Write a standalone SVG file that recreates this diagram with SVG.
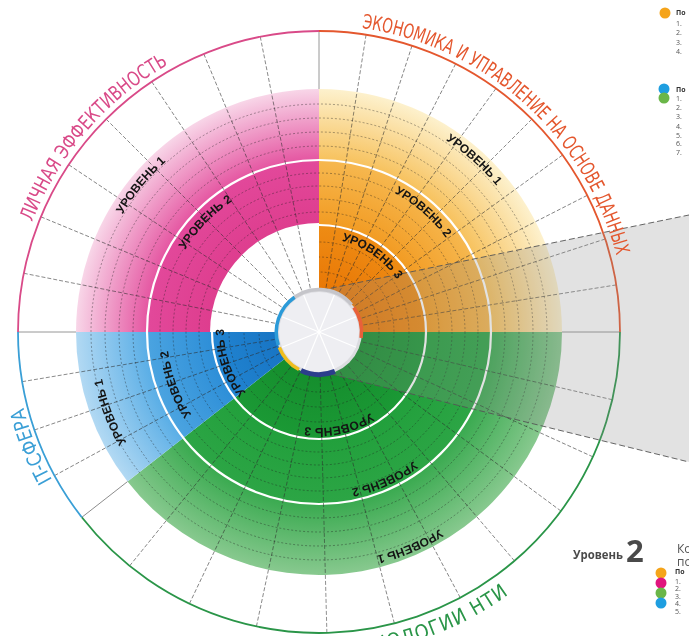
<svg xmlns="http://www.w3.org/2000/svg" width="689" height="636" viewBox="0 0 689 636">
<defs>
<style>
.sep{stroke:#2e2e2e;stroke-width:0.7;stroke-dasharray:4 2;opacity:.75}
.bnd{stroke:#8a8a8a;stroke-width:0.9}
.ring{fill:none;stroke:#1e1e1e;stroke-width:0.7;stroke-dasharray:2 2;opacity:.55}
.wring{fill:none;stroke:#fff;stroke-width:2.2}
.lvl{font-family:"Liberation Sans",Arial,sans-serif;font-weight:bold;font-size:12px;fill:#141414}
.title{font-family:"Liberation Sans Narrow","DejaVu Sans Condensed","Liberation Sans",sans-serif;font-size:20px}
.cl{stroke:#fff;stroke-width:1.2}
.leg{font-family:"Open Sans","Liberation Sans",sans-serif;font-size:7px;fill:#555}
.legb{font-family:"Open Sans","Liberation Sans",sans-serif;font-size:7px;font-weight:bold;fill:#333}
</style>
<radialGradient id="gO" gradientUnits="userSpaceOnUse" cx="319" cy="332" r="243">
<stop offset="0.18" stop-color="#e97806"/><stop offset="0.44" stop-color="#ee8c14"/>
<stop offset="0.445" stop-color="#f29c24"/><stop offset="0.70" stop-color="#f6b74e"/>
<stop offset="0.71" stop-color="#f7c25e"/><stop offset="1" stop-color="#fdf1cd"/>
</radialGradient>
<radialGradient id="gP" gradientUnits="userSpaceOnUse" cx="319" cy="332" r="243">
<stop offset="0.44" stop-color="#de3d8e"/><stop offset="0.70" stop-color="#e2489a"/>
<stop offset="0.71" stop-color="#e557a2"/><stop offset="1" stop-color="#f8d6e8"/>
</radialGradient>
<radialGradient id="gB" gradientUnits="userSpaceOnUse" cx="319" cy="332" r="243">
<stop offset="0.18" stop-color="#1875c4"/><stop offset="0.44" stop-color="#2184d1"/>
<stop offset="0.445" stop-color="#2e8fd8"/><stop offset="0.70" stop-color="#4aa3e0"/>
<stop offset="0.71" stop-color="#5aaee6"/><stop offset="1" stop-color="#b2d9f3"/>
</radialGradient>
<radialGradient id="gG" gradientUnits="userSpaceOnUse" cx="319" cy="332" r="243">
<stop offset="0.18" stop-color="#158e2d"/><stop offset="0.44" stop-color="#1b9935"/>
<stop offset="0.445" stop-color="#22a03c"/><stop offset="0.70" stop-color="#2ca545"/>
<stop offset="0.71" stop-color="#3aaa50"/><stop offset="1" stop-color="#88c98f"/>
</radialGradient>
<path id="tEcon" d="M361.7,28.0 A307,307 0 0 1 616.9,257.7"/>
<path id="tPers" d="M32.4,222.0 A307,307 0 0 1 170.2,63.5"/>
<path id="tIT" d="M52.2,479.9 A305,305 0 0 1 23.1,405.8"/>
<path id="tNTI" d="M182.1,625.6 A324,324 0 0 0 509.4,594.1"/>
<path id="lO1" d="M386.3,112.1 A230,230 0 0 1 530.7,242.1"/>
<path id="lO2" d="M362.5,180.1 A158,158 0 0 1 463.3,267.7"/>
<path id="lO3" d="M335.3,239.4 A94,94 0 0 1 400.4,285.0"/>
<path id="lP1" d="M97.3,274.7 A229,229 0 0 1 220.4,125.3"/>
<path id="lP2" d="M170.6,280.9 A157,157 0 0 1 262.7,185.4"/>
<path id="lB1" d="M164.8,491.7 A222,222 0 0 1 97.5,316.5"/>
<path id="lB2" d="M211.5,439.5 A152,152 0 0 1 167.6,318.7"/>
<path id="lB3" d="M250.7,398.0 A95,95 0 0 1 224.5,322.1"/>
<path id="lG3" d="M376.8,408.7 A96,96 0 0 1 297.4,425.5"/>
<path id="lG2" d="M439.8,437.0 A160,160 0 0 1 316.2,492.0"/>
<path id="lG1" d="M490.7,486.6 A231,231 0 0 1 310.9,562.9"/>
</defs>
<rect width="689" height="636" fill="#fff"/>

<g id="sector-economics">
<path d="M319,332 L319,89 A243,243 0 0 1 562,332 Z" fill="url(#gO)"/>
</g>
<g id="sector-nti">
<path d="M319,332 L562,332 A243,243 0 0 1 127.5,481.6 Z" fill="url(#gG)"/>
</g>
<g id="sector-it">
<path d="M319,332 L127.5,481.6 A243,243 0 0 1 76,332 Z" fill="url(#gB)"/>
</g>
<g id="sector-personal">
<path d="M319,332 L76,332 A243,243 0 0 1 319,89 Z" fill="url(#gP)"/>
</g>

<g id="grid-rings">
<circle class="ring" cx="319" cy="332" r="60"/>
<circle class="ring" cx="319" cy="332" r="75"/>
<circle class="ring" cx="319" cy="332" r="90"/>
<circle class="ring" cx="319" cy="332" r="120"/>
<circle class="ring" cx="319" cy="332" r="133"/>
<circle class="ring" cx="319" cy="332" r="146"/>
<circle class="ring" cx="319" cy="332" r="159"/>
<circle class="ring" cx="319" cy="332" r="186"/>
<circle class="ring" cx="319" cy="332" r="200"/>
<circle class="ring" cx="319" cy="332" r="214"/>
<circle class="ring" cx="319" cy="332" r="228"/>
<path d="M319,332 L210,332 A109,109 0 0 1 319,223 Z" fill="#fff"/>
<circle class="wring" cx="319" cy="332" r="107"/>
<circle class="wring" cx="319" cy="332" r="172"/>
</g>

<g id="connectors">
<g class="sep">
<line x1="364" y1="332" x2="620" y2="332" transform="rotate(-81 319 332)"/>
<line x1="364" y1="332" x2="620" y2="332" transform="rotate(-72 319 332)"/>
<line x1="364" y1="332" x2="620" y2="332" transform="rotate(-63 319 332)"/>
<line x1="364" y1="332" x2="620" y2="332" transform="rotate(-54 319 332)"/>
<line x1="364" y1="332" x2="620" y2="332" transform="rotate(-45 319 332)"/>
<line x1="364" y1="332" x2="620" y2="332" transform="rotate(-36 319 332)"/>
<line x1="364" y1="332" x2="620" y2="332" transform="rotate(-27 319 332)"/>
<line x1="364" y1="332" x2="620" y2="332" transform="rotate(-18 319 332)"/>
<line x1="364" y1="332" x2="620" y2="332" transform="rotate(-9 319 332)"/>
<line x1="364" y1="332" x2="620" y2="332" transform="rotate(-101.25 319 332)"/>
<line x1="364" y1="332" x2="620" y2="332" transform="rotate(-112.5 319 332)"/>
<line x1="364" y1="332" x2="620" y2="332" transform="rotate(-123.75 319 332)"/>
<line x1="364" y1="332" x2="620" y2="332" transform="rotate(-135 319 332)"/>
<line x1="364" y1="332" x2="620" y2="332" transform="rotate(-146.25 319 332)"/>
<line x1="364" y1="332" x2="620" y2="332" transform="rotate(-157.5 319 332)"/>
<line x1="364" y1="332" x2="620" y2="332" transform="rotate(-168.75 319 332)"/>
<line x1="364" y1="332" x2="620" y2="332" transform="rotate(170.5 319 332)"/>
<line x1="364" y1="332" x2="620" y2="332" transform="rotate(161 319 332)"/>
<line x1="364" y1="332" x2="620" y2="332" transform="rotate(151.5 319 332)"/>
<line x1="364" y1="332" x2="620" y2="332" transform="rotate(13 319 332)"/>
<line x1="364" y1="332" x2="620" y2="332" transform="rotate(24.5 319 332)"/>
<line x1="364" y1="332" x2="620" y2="332" transform="rotate(36.5 319 332)"/>
<line x1="364" y1="332" x2="620" y2="332" transform="rotate(49.5 319 332)"/>
<line x1="364" y1="332" x2="620" y2="332" transform="rotate(62 319 332)"/>
<line x1="364" y1="332" x2="620" y2="332" transform="rotate(75.5 319 332)"/>
<line x1="364" y1="332" x2="620" y2="332" transform="rotate(88.5 319 332)"/>
<line x1="364" y1="332" x2="620" y2="332" transform="rotate(102 319 332)"/>
<line x1="364" y1="332" x2="620" y2="332" transform="rotate(115.5 319 332)"/>
<line x1="364" y1="332" x2="620" y2="332" transform="rotate(129 319 332)"/>
</g>
<g class="bnd">
<line x1="562" y1="332" x2="620" y2="332"/>
<line x1="562" y1="332" x2="620" y2="332" transform="rotate(-90 319 332)"/>
<line x1="562" y1="332" x2="620" y2="332" transform="rotate(180 319 332)"/>
<line x1="562" y1="332" x2="620" y2="332" transform="rotate(142 319 332)"/>
</g>
</g>

<g id="outer-circle" fill="none" stroke-width="1.8">
<path d="M319,31 A301,301 0 0 1 620,332" stroke="#e4572e"/>
<path d="M620,332 A301,301 0 0 1 81.8,517.3" stroke="#2a9548"/>
<path d="M81.8,517.3 A301,301 0 0 1 18,332" stroke="#3a9fd6"/>
<path d="M18,332 A301,301 0 0 1 319,31" stroke="#d94a88"/>
</g>

<g id="highlight">
<polygon points="322,290 689,215 689,462 322,372" fill="#8a8a8a" opacity="0.25"/>
<line x1="322" y1="290" x2="689" y2="215" stroke="#555" stroke-width="0.9" stroke-dasharray="6 3"/>
<line x1="322" y1="372" x2="689" y2="462" stroke="#555" stroke-width="0.9" stroke-dasharray="6 3"/>
</g>

<g id="center">
<circle cx="319" cy="332" r="43" fill="#dcdce0"/>
<circle cx="319" cy="332" r="40" fill="#eeeef2"/>
<g class="cl">
<line x1="319" y1="332" x2="359" y2="332" transform="rotate(-67.5 319 332)"/>
<line x1="319" y1="332" x2="359" y2="332" transform="rotate(-22.5 319 332)"/>
<line x1="319" y1="332" x2="359" y2="332" transform="rotate(22.5 319 332)"/>
<line x1="319" y1="332" x2="359" y2="332" transform="rotate(67.5 319 332)"/>
<line x1="319" y1="332" x2="359" y2="332" transform="rotate(112.5 319 332)"/>
<line x1="319" y1="332" x2="359" y2="332" transform="rotate(157.5 319 332)"/>
<line x1="319" y1="332" x2="359" y2="332" transform="rotate(202.5 319 332)"/>
<line x1="319" y1="332" x2="359" y2="332" transform="rotate(247.5 319 332)"/>
</g>
<g fill="none" stroke-width="3.5">
<path d="M288.9,302.0 A42.5,42.5 0 0 1 351.6,304.7" stroke="#c5c5ca"/>
<path d="M353.8,307.6 A42.5,42.5 0 0 1 361.1,337.9" stroke="#e8603a"/>
<path d="M278.3,345.1 A42.5,42.5 0 0 1 294.6,297.2" stroke="#2b9ad8"/>
<path d="M299.0,369.5 A42.5,42.5 0 0 1 279.3,347.3" stroke="#f0be1e"/>
<path d="M334.9,371.4 A42.5,42.5 0 0 1 301.0,370.5" stroke="#2c3e8c" stroke-width="5"/>
</g>
</g>

<g id="level-labels" class="lvl">
<text><textPath href="#lO1" startOffset="50%" text-anchor="middle">УРОВЕНЬ 1</textPath></text>
<text><textPath href="#lO2" startOffset="50%" text-anchor="middle">УРОВЕНЬ 2</textPath></text>
<text><textPath href="#lO3" startOffset="50%" text-anchor="middle">УРОВЕНЬ 3</textPath></text>
<text><textPath href="#lP1" startOffset="50%" text-anchor="middle">УРОВЕНЬ 1</textPath></text>
<text><textPath href="#lP2" startOffset="50%" text-anchor="middle">УРОВЕНЬ 2</textPath></text>
<text><textPath href="#lB1" startOffset="50%" text-anchor="middle">УРОВЕНЬ 1</textPath></text>
<text><textPath href="#lB2" startOffset="50%" text-anchor="middle">УРОВЕНЬ 2</textPath></text>
<text><textPath href="#lB3" startOffset="50%" text-anchor="middle">УРОВЕНЬ 3</textPath></text>
<text><textPath href="#lG3" startOffset="50%" text-anchor="middle">УРОВЕНЬ 3</textPath></text>
<text><textPath href="#lG2" startOffset="50%" text-anchor="middle">УРОВЕНЬ 2</textPath></text>
<text><textPath href="#lG1" startOffset="50%" text-anchor="middle">УРОВЕНЬ 1</textPath></text>
</g>

<g id="titles" class="title">
<text fill="#e4572e"><textPath href="#tEcon" textLength="362" lengthAdjust="spacingAndGlyphs">ЭКОНОМИКА И УПРАВЛЕНИЕ НА ОСНОВЕ ДАННЫХ</textPath></text>
<text fill="#d94a88"><textPath href="#tPers" textLength="212" lengthAdjust="spacingAndGlyphs">ЛИЧНАЯ ЭФФЕКТИВНОСТЬ</textPath></text>
<text fill="#3a9fd6"><textPath href="#tIT" textLength="78" lengthAdjust="spacingAndGlyphs">IT-СФЕРА</textPath></text>
<text fill="#2a9548"><textPath href="#tNTI" startOffset="100%" text-anchor="end" letter-spacing="1">ТЕХНОЛОГИИ НТИ</textPath></text>
</g>

<g id="legend-top">
<circle cx="665" cy="13" r="5.5" fill="#f5a41a"/>
<text class="legb" x="676" y="15">По</text>
<text class="leg" x="676" y="26">1.</text>
<text class="leg" x="676" y="35">2.</text>
<text class="leg" x="676" y="45">3.</text>
<text class="leg" x="676" y="54">4.</text>
<circle cx="664" cy="89" r="5.5" fill="#1e9ee0"/>
<circle cx="664" cy="98" r="5.5" fill="#6ab648"/>
<text class="legb" x="676" y="92">По</text>
<text class="leg" x="676" y="101">1.</text>
<text class="leg" x="676" y="110">2.</text>
<text class="leg" x="676" y="119">3.</text>
<text class="leg" x="676" y="129">4.</text>
<text class="leg" x="676" y="138">5.</text>
<text class="leg" x="676" y="146">6.</text>
<text class="leg" x="676" y="155">7.</text>
</g>

<g id="legend-bottom">
<text x="573" y="559" font-family="'Open Sans','Liberation Sans',sans-serif" font-weight="bold" font-size="13" fill="#4a4a4a" textLength="50" lengthAdjust="spacingAndGlyphs">Уровень</text>
<text x="626" y="562" font-family="'Open Sans','Liberation Sans',sans-serif" font-weight="bold" font-size="31" fill="#4a4a4a">2</text>
<text x="677" y="553" font-family="'Open Sans','Liberation Sans',sans-serif" font-size="12" fill="#555">Ко</text>
<text x="677" y="566" font-family="'Open Sans','Liberation Sans',sans-serif" font-size="12" fill="#555">по</text>
<circle cx="661" cy="573" r="5.5" fill="#f5a41a"/>
<circle cx="661" cy="583" r="5.5" fill="#e0157e"/>
<circle cx="661" cy="593" r="5.5" fill="#6ab648"/>
<circle cx="661" cy="603" r="5.5" fill="#1e9ee0"/>
<text class="legb" x="675" y="574">По</text>
<text class="leg" x="675" y="584">1.</text>
<text class="leg" x="675" y="591">2.</text>
<text class="leg" x="675" y="599">3.</text>
<text class="leg" x="675" y="606">4.</text>
<text class="leg" x="675" y="614">5.</text>
</g>
</svg>
